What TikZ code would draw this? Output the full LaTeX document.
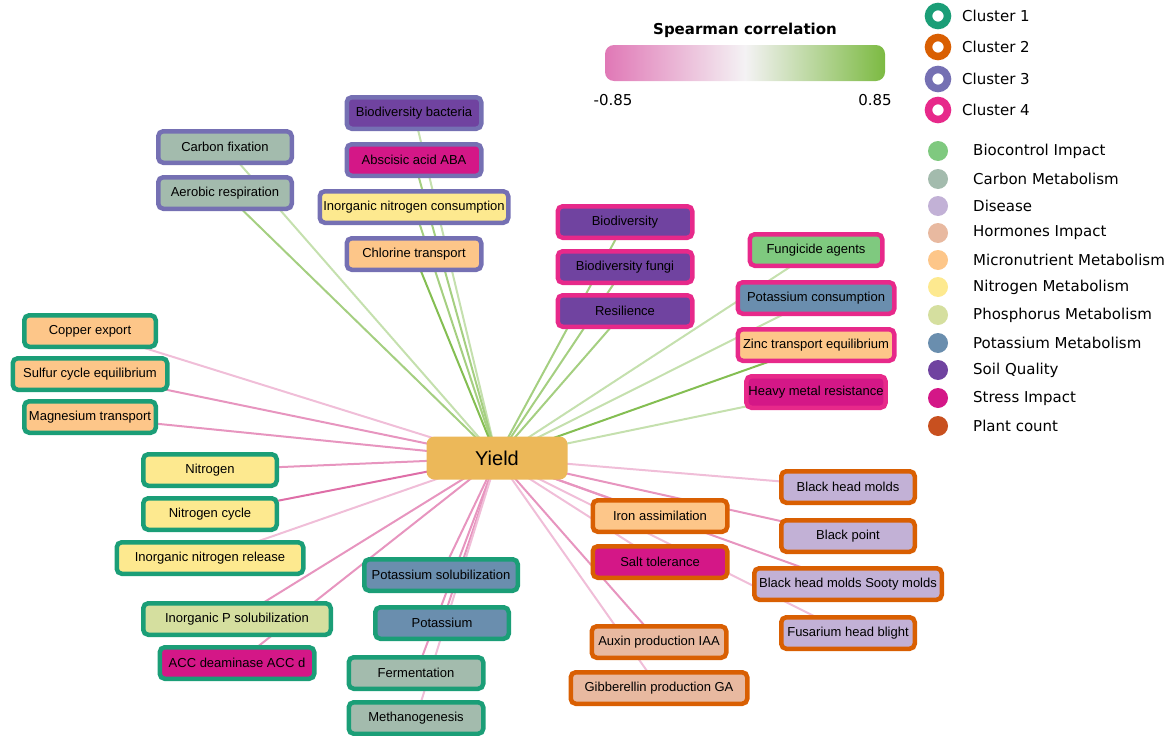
\documentclass[tikz,border=0pt]{standalone}
\usepackage{fontspec}
\setmainfont{Liberation Sans}
\newfontfamily\dejavu{DejaVu Sans}
\usetikzlibrary{backgrounds}
\definecolor{cA}{HTML}{1B9E77}
\definecolor{cB}{HTML}{D95F02}
\definecolor{cC}{HTML}{7570B3}
\definecolor{cD}{HTML}{E7298A}
\definecolor{fbio}{HTML}{7FC97F}
\definecolor{fcarb}{HTML}{A3BBAD}
\definecolor{fdis}{HTML}{C2B1D6}
\definecolor{fhorm}{HTML}{E8B9A0}
\definecolor{fmicro}{HTML}{FDC689}
\definecolor{fnitro}{HTML}{FDE98F}
\definecolor{fphos}{HTML}{D5DF9F}
\definecolor{fpot}{HTML}{6A8EAE}
\definecolor{fsoil}{HTML}{7043A0}
\definecolor{fstress}{HTML}{D41787}
\definecolor{fplant}{HTML}{C8501F}
\definecolor{fyield}{HTML}{ECB859}
\definecolor{gbase}{RGB}{110,178,52}
\definecolor{pbase}{RGB}{216,84,152}
\definecolor{cbl}{RGB}{224,120,182}
\definecolor{cbr}{RGB}{124,186,66}
\definecolor{cbm}{RGB}{244,242,244}
\tikzset{
  box/.style={rounded corners=5pt, line width=4.5pt, minimum height=31.5pt, inner sep=2pt,
    font=\fontsize{13}{15}\selectfont, text=black},
  yieldbox/.style={rounded corners=8pt, fill=fyield, minimum width=141pt, minimum height=43pt,
    font=\fontsize{20}{24}\selectfont},
  edge/.style={line width=2pt},
  gL/.style={edge, draw=gbase!40!white},
  gM/.style={edge, draw=gbase!62!white},
  gD/.style={edge, draw=gbase!85!white},
  pL/.style={edge, draw=pbase!38!white},
  pM/.style={edge, draw=pbase!62!white},
  pD/.style={edge, draw=pbase!85!white},
  legtext/.style={font=\dejavu\fontsize{15}{18}\selectfont, anchor=west, inner sep=0pt},
  ring/.style={line width=7.5pt, fill=white},
  dot/.style={circle, minimum size=20pt, inner sep=0pt},
}
\begin{document}
\begin{tikzpicture}[x=1pt,y=-1pt]
\useasboundingbox (0,0) rectangle (1173,736);
% colorbar
\node[font=\dejavu\bfseries\fontsize{15}{18}\selectfont] (cbt) at (745,30) {Spearman correlation};
\shade[rounded corners=9pt, left color=cbl, right color=cbr, middle color=cbm] (605,45) rectangle (885,81);
\node[font=\dejavu\fontsize{15}{18}\selectfont] (cbmin) at (613,100) {-0.85};
\node[font=\dejavu\fontsize{15}{18}\selectfont] (cbmax) at (875,100) {0.85};
% legend clusters
\draw[ring, draw=cA] (938,16) circle (9.5);
\draw[ring, draw=cB] (938,47) circle (9.5);
\draw[ring, draw=cC] (938,79) circle (9.5);
\draw[ring, draw=cD] (938,110) circle (9.5);
\node[legtext] (l1) at (962,16) {Cluster 1};
\node[legtext] (l2) at (962,47) {Cluster 2};
\node[legtext] (l3) at (962,79) {Cluster 3};
\node[legtext] (l4) at (962,110) {Cluster 4};
% legend categories
\node[dot, fill=fbio] (d1) at (938,151) {};
\node[dot, fill=fcarb] (d2) at (938,179) {};
\node[dot, fill=fdis] (d3) at (938,206) {};
\node[dot, fill=fhorm] (d4) at (938,233) {};
\node[dot, fill=fmicro] (d5) at (938,260) {};
\node[dot, fill=fnitro] (d6) at (938,287) {};
\node[dot, fill=fphos] (d7) at (938,315) {};
\node[dot, fill=fpot] (d8) at (938,343) {};
\node[dot, fill=fsoil] (d9) at (938,370) {};
\node[dot, fill=fstress] (d10) at (938,398) {};
\node[dot, fill=fplant] (d11) at (938,426) {};
\node[legtext] (t1) at (973,151) {Biocontrol Impact};
\node[legtext] (t2) at (973,179) {Carbon Metabolism};
\node[legtext] (t3) at (973,206) {Disease};
\node[legtext] (t4) at (973,233) {Hormones Impact};
\node[legtext] (t5) at (973,260) {Micronutrient Metabolism};
\node[legtext] (t6) at (973,287) {Nitrogen Metabolism};
\node[legtext] (t7) at (973,315) {Phosphorus Metabolism};
\node[legtext] (t8) at (973,343) {Potassium Metabolism};
\node[legtext] (t9) at (973,370) {Soil Quality};
\node[legtext] (t10) at (973,398) {Stress Impact};
\node[legtext] (t11) at (973,426) {Plant count};
% center
\node[yieldbox] (yield) at (497,458) {Yield};
% cluster 3
\node[box, draw=cC, fill=fsoil, minimum width=134.5pt] (bb) at (414,113) {Biodiversity bacteria};
\node[box, draw=cC, fill=fstress, minimum width=134.5pt] (aba) at (414,160) {Abscisic acid ABA};
\node[box, draw=cC, fill=fnitro, minimum width=188.5pt] (inc) at (414,207) {Inorganic nitrogen consumption};
\node[box, draw=cC, fill=fmicro, minimum width=134.5pt] (cl) at (414,254) {Chlorine transport};
\node[box, draw=cC, fill=fcarb, minimum width=133.5pt] (cf) at (225,147) {Carbon fixation};
\node[box, draw=cC, fill=fcarb, minimum width=133.5pt] (ar) at (225,193) {Aerobic respiration};
% cluster 4
\node[box, draw=cD, fill=fsoil, minimum width=134.5pt] (bio) at (625,222) {Biodiversity};
\node[box, draw=cD, fill=fsoil, minimum width=134.5pt] (bf) at (625,267) {Biodiversity fungi};
\node[box, draw=cD, fill=fsoil, minimum width=134.5pt] (res) at (625,311) {Resilience};
\node[box, draw=cD, fill=fbio, minimum width=132.5pt] (fa) at (816,250) {Fungicide agents};
\node[box, draw=cD, fill=fpot, minimum width=156.5pt] (pc) at (816,298) {Potassium consumption};
\node[box, draw=cD, fill=fmicro, minimum width=156.5pt] (zt) at (816,345) {Zinc transport equilibrium};
\node[box, draw=cD, fill=fstress, minimum width=132.5pt] (hm) at (816,392) {Heavy metal resistance};
% cluster 1
\node[box, draw=cA, fill=fmicro, minimum width=131.5pt] (ce) at (90,331) {Copper export};
\node[box, draw=cA, fill=fmicro, minimum width=154.5pt] (sc) at (90,374) {Sulfur cycle equilibrium};
\node[box, draw=cA, fill=fmicro, minimum width=131.5pt] (mt) at (90,417) {Magnesium transport};
\node[box, draw=cA, fill=fnitro, minimum width=133.5pt] (ni) at (210,470) {Nitrogen};
\node[box, draw=cA, fill=fnitro, minimum width=133.5pt] (nc) at (210,514) {Nitrogen cycle};
\node[box, draw=cA, fill=fnitro, minimum width=186.5pt] (inr) at (210,558) {Inorganic nitrogen release};
\node[box, draw=cA, fill=fphos, minimum width=187.5pt] (ips) at (237,619) {Inorganic P solubilization};
\node[box, draw=cA, fill=fstress, minimum width=154.5pt] (acc) at (237,663) {ACC deaminase ACC d};
\node[box, draw=cA, fill=fpot, minimum width=153.5pt] (ks) at (441,575) {Potassium solubilization};
\node[box, draw=cA, fill=fpot, minimum width=133.5pt] (ka) at (442,623) {Potassium};
\node[box, draw=cA, fill=fcarb, minimum width=134.5pt] (fe) at (416,673) {Fermentation};
\node[box, draw=cA, fill=fcarb, minimum width=134.5pt] (me) at (416,718) {Methanogenesis};
% cluster 2
\node[box, draw=cB, fill=fmicro, minimum width=134.5pt] (ia) at (660,516) {Iron assimilation};
\node[box, draw=cB, fill=fstress, minimum width=134.5pt] (st) at (660,562) {Salt tolerance};
\node[box, draw=cB, fill=fhorm, minimum width=134.5pt] (aux) at (659,642) {Auxin production IAA};
\node[box, draw=cB, fill=fhorm, minimum width=176.5pt] (gib) at (659,688) {Gibberellin production GA};
\node[box, draw=cB, fill=fdis, minimum width=133.5pt] (bhm) at (848,487) {Black head molds};
\node[box, draw=cB, fill=fdis, minimum width=133.5pt] (bp) at (848,536) {Black point};
\node[box, draw=cB, fill=fdis, minimum width=187.5pt] (sm) at (848,584) {Black head molds Sooty molds};
\node[box, draw=cB, fill=fdis, minimum width=133.5pt] (fhb) at (848,633) {Fusarium head blight};
% edges
\begin{scope}[on background layer]
\draw[gL] (yield.center) -- (cf.center);
\draw[gM] (yield.center) -- (ar.center);
\draw[gL] (yield.center) -- (bb.center);
\draw[gM] (yield.center) -- (aba.center);
\draw[gM] (yield.center) -- (inc.center);
\draw[gD] (yield.center) -- (cl.center);
\draw[gM] (yield.center) -- (bio.center);
\draw[gM] (yield.center) -- (bf.center);
\draw[gM] (yield.center) -- (res.center);
\draw[gL] (yield.center) -- (fa.center);
\draw[gL] (yield.center) -- (pc.center);
\draw[gD] (yield.center) -- (zt.center);
\draw[gL] (yield.center) -- (hm.center);
\draw[pL] (yield.center) -- (ce.center);
\draw[pM] (yield.center) -- (sc.center);
\draw[pM] (yield.center) -- (mt.center);
\draw[pM] (yield.center) -- (ni.center);
\draw[pD] (yield.center) -- (nc.center);
\draw[pL] (yield.center) -- (inr.center);
\draw[pM] (yield.center) -- (ips.center);
\draw[pM] (yield.center) -- (acc.center);
\draw[pM] (yield.center) -- (ks.center);
\draw[pM] (yield.center) -- (ka.center);
\draw[pM] (yield.center) -- (fe.center);
\draw[pL] (yield.center) -- (me.center);
\draw[pM] (yield.center) -- (ia.center);
\draw[pL] (yield.center) -- (st.center);
\draw[pM] (yield.center) -- (aux.center);
\draw[pL] (yield.center) -- (gib.center);
\draw[pL] (yield.center) -- (bhm.center);
\draw[pM] (yield.center) -- (bp.center);
\draw[pM] (yield.center) -- (sm.center);
\draw[pL] (yield.center) -- (fhb.center);
\end{scope}
\end{tikzpicture}
\end{document}
